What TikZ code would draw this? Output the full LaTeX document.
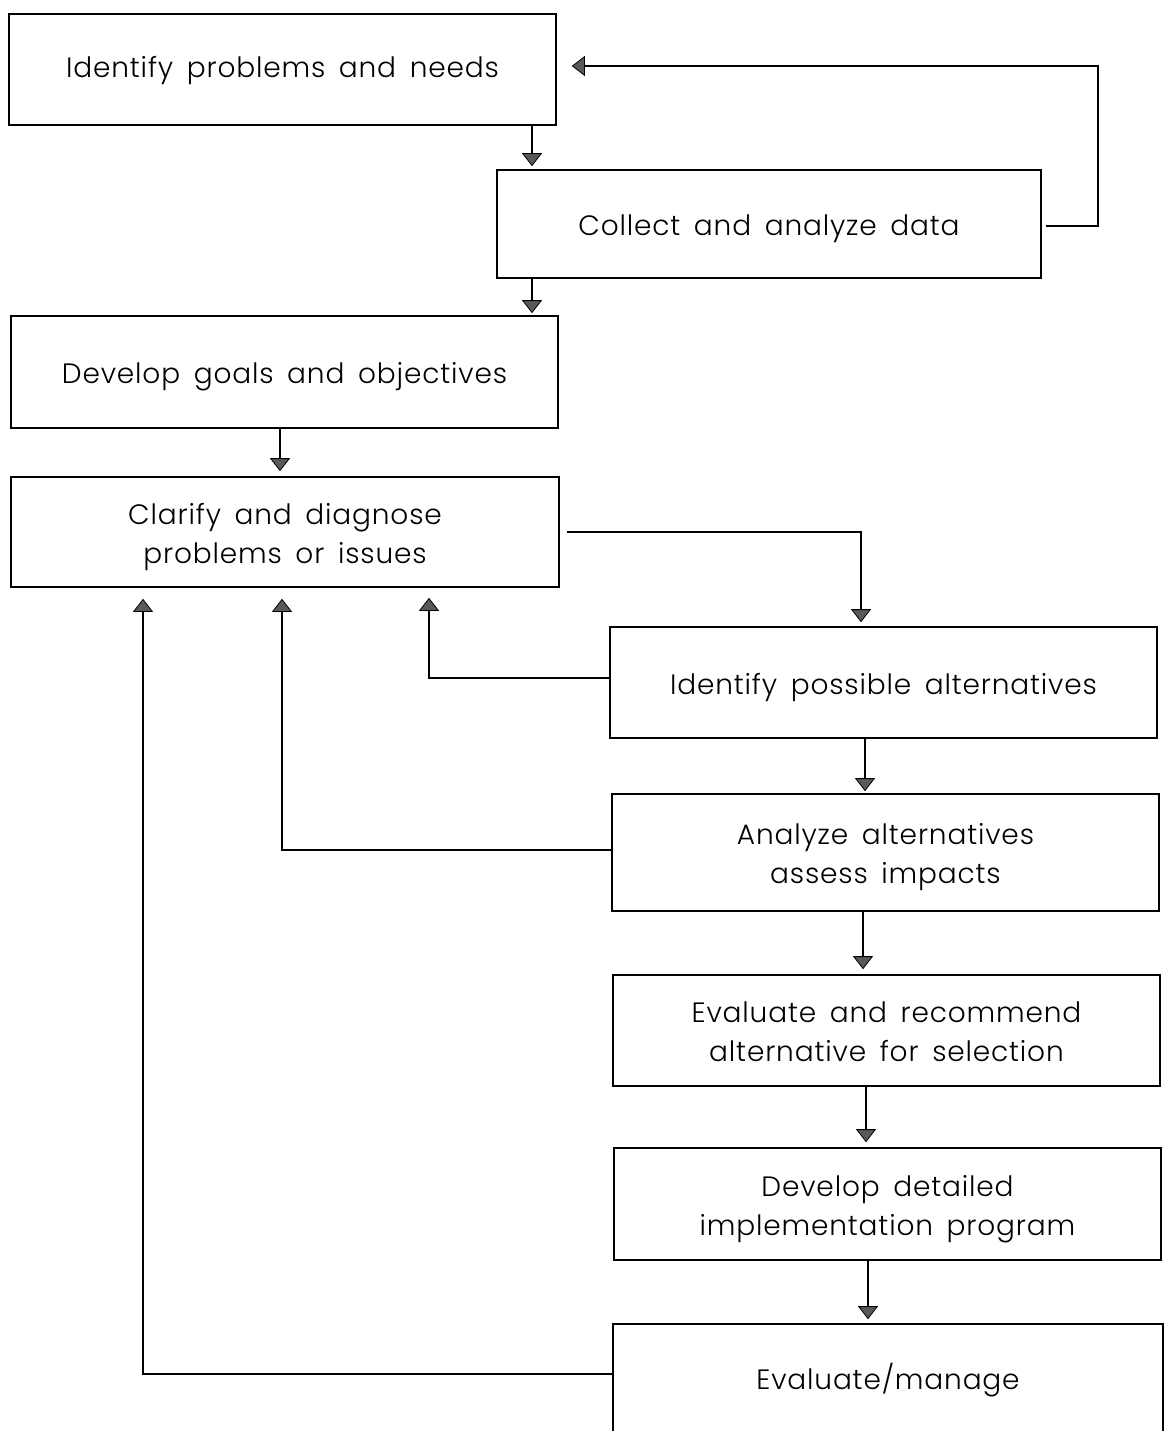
\documentclass[tikz,border=0pt]{standalone}
\usepackage{fontspec}
\setmainfont{Poppins}[UprightFont=* Light, LetterSpace=3, WordSpace=1.6]
\usetikzlibrary{arrows.meta}
% centred lines of box text; the optional extra height lowers the text in its box
\newcommand\boxtext[2][8pt]{\raisebox{0pt}[\dimexpr\height+#1\relax][\depth]{\begin{tabular}{@{}c@{}}#2\end{tabular}}}
\tikzset{
  stepbox/.style={draw, line width=1.6pt, inner sep=0pt,
    font=\fontsize{28}{39}\selectfont},
  arr/.style={line width=1.3pt, -{Triangle[width=20pt,length=13pt,fill=black!65,line width=0.8pt]}}
}
\begin{document}
\begin{tikzpicture}[x=1pt,y=-1pt]
\useasboundingbox (0,0) rectangle (1163,1431);

% process boxes
\node[stepbox, minimum width=547pt, minimum height=111pt] (box1) at (282.5,69.5) {\boxtext[1pt]{Identify problems and needs}};
\node[stepbox, minimum width=544pt, minimum height=108pt] (box2) at (769,224) {\boxtext{Collect and analyze data}};
\node[stepbox, minimum width=547pt, minimum height=112pt] (box3) at (284.5,372) {\boxtext{Develop goals and objectives}};
\node[stepbox, minimum width=548pt, minimum height=110pt] (box4) at (285,532) {\boxtext{Clarify and diagnose\\problems or issues}};
\node[stepbox, minimum width=547pt, minimum height=111pt] (box5) at (883.5,682.5) {\boxtext{Identify possible alternatives}};
\node[stepbox, minimum width=547pt, minimum height=117pt] (box6) at (885.5,852.5) {\boxtext{Analyze alternatives\\assess impacts}};
\node[stepbox, minimum width=547pt, minimum height=111pt] (box7) at (886.5,1030.5) {\boxtext{Evaluate and recommend\\alternative for selection}};
\node[stepbox, minimum width=547pt, minimum height=112pt] (box8) at (887.5,1204) {\boxtext{Develop detailed\\implementation program}};
\node[stepbox, draw=none, minimum width=548pt, minimum height=106pt] (box9) at (888,1378) {\boxtext{Evaluate/manage}};
\draw[line width=1.6pt] (box9.south west) -- (box9.north west) -- (box9.north east) -- (box9.south east);

% helper columns for the connectors
\coordinate (c532) at (532,0);
\coordinate (c280) at (280,0);
\coordinate (c861) at (861,0);
\coordinate (c865) at (865,0);
\coordinate (c863) at (863,0);
\coordinate (c866) at (866,0);
\coordinate (c868) at (868,0);
\coordinate (c429) at (429,0);
\coordinate (c282) at (282,0);
\coordinate (c143) at (143,0);
\coordinate (r1) at (1098,66);

% main flow
\draw[arr, shorten >=3pt] (box1.south -| c532) -- (box2.north -| c532);
\draw[arr, shorten >=2pt] (box2.south -| c532) -- (box3.north -| c532);
\draw[arr, shorten >=5pt] (box3.south -| c280) -- (box4.north -| c280);
\draw[arr, shorten <=7pt, shorten >=4pt] (box4.east) -| (box5.north -| c861);
\draw[arr, shorten >=2pt] (box5.south -| c865) -- (box6.north -| c865);
\draw[arr, shorten >=5pt] (box6.south -| c863) -- (box7.north -| c863);
\draw[arr, shorten >=5pt] (box7.south -| c866) -- (box8.north -| c866);
\draw[arr, shorten >=5pt] (box8.south -| c868) -- (box9.north -| c868);

% feedback loops
\draw[arr, shorten <=4pt, shorten >=15pt] ([yshift=-2pt]box2.east) -| (r1) -- (box1.east |- r1);
\draw[arr, shorten >=10pt] ([yshift=4.5pt]box5.west) -| (box4.south -| c429);
\draw[arr, shorten >=11pt] ([yshift=2.5pt]box6.west) -| (box4.south -| c282);
\draw[arr, shorten >=11pt] ([yshift=4pt]box9.west) -| (box4.south -| c143);
\end{tikzpicture}
\end{document}
